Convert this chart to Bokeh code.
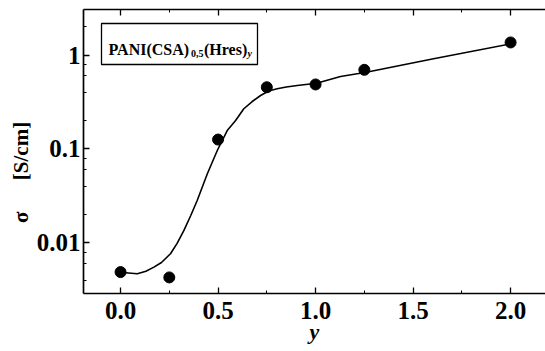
from bokeh.plotting import figure
from bokeh.models import (LinearAxis, Range1d, SingleIntervalTicker, LogTicker,
                          CustomJSTickFormatter, NumeralTickFormatter, BoxAnnotation, Label)
from bokeh.embed import file_html
from bokeh.resources import INLINE

# measured data points
y_content = [0.0, 0.25, 0.5, 0.75, 1.0, 1.25, 2.0]
sigma = [0.0049, 0.0043, 0.126, 0.454, 0.486, 0.696, 1.36]

# fitted (guide-to-the-eye) curve
fit_y = [0.0, 0.04, 0.086, 0.13, 0.171, 0.21, 0.256, 0.29, 0.325, 0.36, 0.393,
         0.445, 0.496, 0.547, 0.59, 0.632, 0.675, 0.718, 0.76, 0.803, 0.85,
         0.906, 1.005, 1.128, 1.26, 1.605, 2.0]
fit_sigma = [0.0049, 0.0048, 0.0047, 0.0050, 0.00553, 0.0062, 0.00768, 0.0099,
             0.0136, 0.0196, 0.0283, 0.0545, 0.0964, 0.157, 0.201, 0.268, 0.32,
             0.371, 0.414, 0.437, 0.457, 0.474, 0.501, 0.59, 0.656, 0.911, 1.315]

x_label = "y"
y_label = "σ" + "\u00a0" * 6 + "[S/cm]" + "\u00a0" * 8

FONT = "Liberation Serif"

p = figure(width=545, height=351, output_backend="svg", toolbar_location=None,
           y_axis_type="log",
           x_range=Range1d(-0.19, 2.179), y_range=Range1d(0.0029, 3.05),
           min_border_left=83, min_border_right=0, min_border_top=9, min_border_bottom=58)
p.grid.visible = False
p.outline_line_color = None
p.background_fill_color = "white"

xticker = SingleIntervalTicker(interval=0.5, num_minor_ticks=2)

xa = p.xaxis[0]
xa.ticker = xticker
xa.formatter = NumeralTickFormatter(format="0.0")
xa.major_label_standoff = 8
xa.axis_label = x_label
xa.axis_label_text_font = FONT
xa.axis_label_text_font_style = "bold italic"
xa.axis_label_text_font_size = "22px"
xa.axis_label_text_color = "black"
xa.axis_label_standoff = -3

ya = p.yaxis[0]
ya.ticker = LogTicker()
ya.formatter = CustomJSTickFormatter(code="return tick.toString();")
ya.major_label_standoff = 3
ya.axis_label = y_label
ya.axis_label_text_font = FONT
ya.axis_label_text_font_style = "bold"
ya.axis_label_text_font_size = "21px"
ya.axis_label_text_color = "black"
ya.axis_label_standoff = 1

top = LinearAxis(ticker=xticker, formatter=CustomJSTickFormatter(code="return '';"),
                 major_label_standoff=0)
p.add_layout(top, "above")

for ax in [xa, ya, top]:
    ax.axis_line_width = 1.7
    ax.axis_line_color = "black"
    ax.major_tick_in = 6
    ax.major_tick_out = 0
    ax.minor_tick_in = 3
    ax.minor_tick_out = 0
    ax.major_tick_line_width = 1.3
    ax.minor_tick_line_width = 1
    ax.major_tick_line_color = "black"
    ax.minor_tick_line_color = "black"
    ax.major_label_text_font = FONT
    ax.major_label_text_font_style = "bold"
    ax.major_label_text_color = "black"
for ax in [xa, ya]:
    ax.major_label_text_font_size = "25px"

p.line(fit_y, fit_sigma, line_color="black", line_width=1.6, line_join="round")
p.scatter(y_content, sigma, size=11, color="black")

# legend-like title box
p.add_layout(BoxAnnotation(left=18, right=174, top=270, bottom=229,
                           left_units="screen", right_units="screen",
                           top_units="screen", bottom_units="screen",
                           fill_alpha=0, line_color="black", line_alpha=1, line_width=1.3))

def lab(x, y, t, size, style="bold"):
    p.add_layout(Label(x=x, y=y, x_units="screen", y_units="screen", text=t,
                       text_font=FONT, text_font_style=style, text_font_size=size,
                       text_color="black", text_baseline="alphabetic"))

lab(25, 244, "PANI(CSA)", "16px")
lab(107.5, 240, "0,5", "10px")
lab(120.5, 244, "(Hres)", "16px")
lab(164, 240, "y", "10px", "bold italic")

open("out.html", "w").write(file_html(p, INLINE))
